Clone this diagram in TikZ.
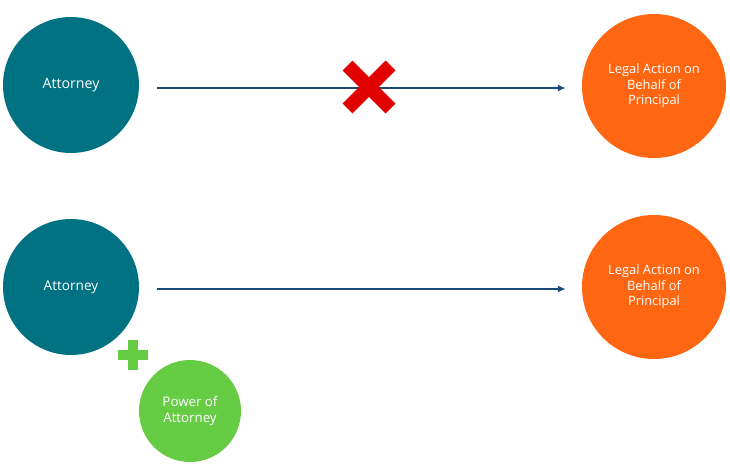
\documentclass[tikz,border=0pt]{standalone}
\usepackage{fontspec}
\setmainfont{Open Sans}
\usetikzlibrary{arrows.meta}

\definecolor{attteal}{RGB}{0,114,130}
\definecolor{actorange}{RGB}{255,102,17}
\definecolor{powgreen}{RGB}{102,204,68}
\definecolor{arrnavy}{RGB}{28,72,120}
\definecolor{nored}{RGB}{224,0,0}

\tikzset{
	party/.style = {circle, fill = attteal, text = white, minimum size = 136pt, inner sep = 0pt, align = center, font = \fontsize{14.2}{17}\selectfont},
	action/.style = {circle, fill = actorange, text = white, minimum size = 144pt, inner sep = 0pt, align = center, font = \fontsize{12.9}{15.5}\selectfont},
	power/.style = {circle, fill = powgreen, text = white, minimum size = 102pt, inner sep = 0pt, align = center, font = \fontsize{13.3}{16}\selectfont},
	link/.style = {-{Latex[length = 8pt, width = 7pt]}, arrnavy, line width = 2.2pt, shorten > = 16pt}
}

\begin{document}
\begin{tikzpicture}[x = 1pt, y = -1pt]
	%	page
	\useasboundingbox (0, 0) rectangle (730, 471);
	
	%	top row
	\node[party] (att1) at (71, 85) {Attorney};
	\node[action] (act1) at (654, 86) {Legal Action on\\Behalf of\\Principal};
	\draw[link] (att1.east) ++(18, 3) coordinate (s1) (s1) -- (s1 -| act1.west) coordinate (e1);
	
	%	cross - no route
	\def\c{21.5}
	\coordinate (cross) at (369, 87);
	\draw[nored, line width = 14pt] ([shift = {(-\c, -\c)}]cross) -- ([shift = {(\c, \c)}]cross);
	\draw[nored, line width = 14pt] ([shift = {(-\c, \c)}]cross) -- ([shift = {(\c, -\c)}]cross);
	
	%	bottom row
	\node[party, font = \fontsize{13.6}{16}\selectfont] (att2) at (71, 287) {Attorney};
	\node[action] (act2) at (654, 287) {Legal Action on\\Behalf of\\Principal};
	\draw[link] (att2.east) ++(18, 2) coordinate (s2) (s2) -- (s2 -| act2.west) coordinate (e2);
	
	%	plus and power of attorney
	\def\p{15}
	\coordinate (plus) at (133, 355);
	\draw[powgreen, line width = 9.5pt] ([xshift = -\p]plus) -- ([xshift = \p]plus);
	\draw[powgreen, line width = 9.5pt] ([yshift = -\p]plus) -- ([yshift = \p]plus);
	\node[power] (poa) at (190, 411) {Power of\\Attorney};
\end{tikzpicture}
\end{document}
